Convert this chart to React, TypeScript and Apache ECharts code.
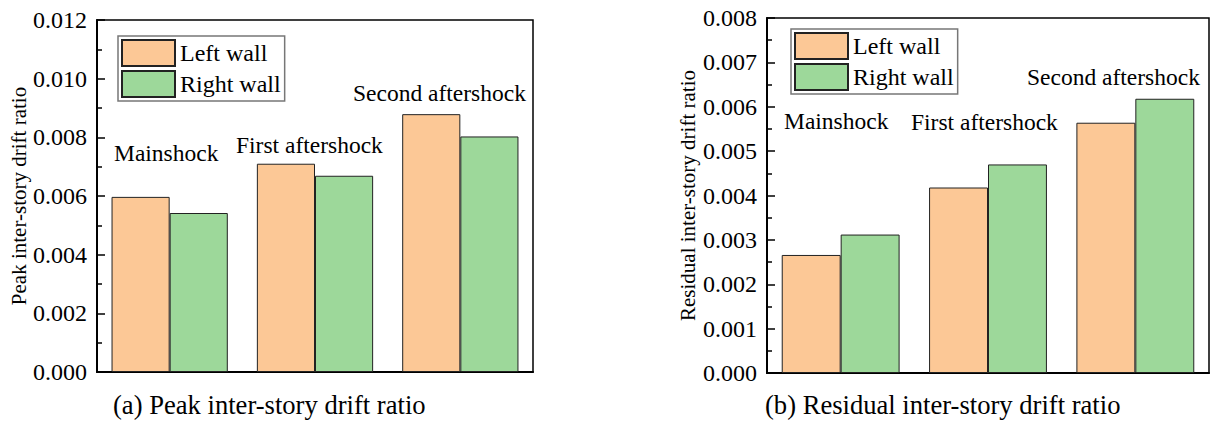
import React, { useEffect, useRef } from "react";
import * as echarts from "echarts";

const categories = ["Mainshock", "First aftershock", "Second aftershock"];
const seriesNames = ["Left wall", "Right wall"];
const peakLeft = [0.00597, 0.0071, 0.00879];
const peakRight = [0.00542, 0.00669, 0.00803];
const residualLeft = [0.00266, 0.00418, 0.00564];
const residualRight = [0.00312, 0.0047, 0.00618];
const peakAxis = { min: 0, max: 0.012, interval: 0.002 };
const residualAxis = { min: 0, max: 0.008, interval: 0.001 };
const yNames = ["Peak inter-story drift ratio", "Residual inter-story drift ratio"];
const captions = ["(a) Peak inter-story drift ratio", "(b) Residual inter-story drift ratio"];

const FONT = "Liberation Serif";
const ORANGE = "#FCC896";
const GREEN = "#9DD89A";

const annotPos = [
  [[114, 153], [236, 145], [353, 93]],
  [[784, 121], [911, 122], [1027, 77]],
];

export default function App() {
  const ref = useRef<HTMLDivElement>(null);
  useEffect(() => {
    if (!ref.current) return;
    const chart = echarts.init(ref.current, undefined, { renderer: "svg" });
    const grids = [
      { left: 97, top: 20, width: 436, height: 352 },
      { left: 767, top: 18, width: 442, height: 355 },
    ];
    const axes = [peakAxis, residualAxis];
    const xAxis = grids.map((_, i) => ({
      type: "category",
      gridIndex: i,
      data: categories,
      axisTick: { show: false },
      axisLabel: { show: false },
      axisLine: { lineStyle: { color: "#000", width: 2 } },
    }));
    const yAxis = grids.map((_, i) => ({
      type: "value",
      gridIndex: i,
      min: axes[i].min,
      max: axes[i].max,
      interval: axes[i].interval,
      name: yNames[i],
      nameLocation: "middle",
      nameGap: i === 0 ? 67 : 69,
      nameTextStyle: { fontFamily: FONT, fontSize: 21, color: "#000" },
      axisLine: { show: true, lineStyle: { color: "#000", width: 2 } },
      axisTick: { show: true, inside: true, length: 8, lineStyle: { color: "#000", width: 1.5 } },
      minorTick: { show: true, splitNumber: 2, length: 5, lineStyle: { color: "#000", width: 1.5 } },
      splitLine: { show: false },
      axisLabel: {
        fontFamily: FONT,
        fontSize: 24,
        color: "#000",
        margin: 10,
        formatter: (v: number) => v.toFixed(3),
      },
    }));
    const data = [
      [peakLeft, peakRight],
      [residualLeft, residualRight],
    ];
    const series: any[] = [];
    data.forEach((pair, gi) => {
      pair.forEach((vals, si) => {
        series.push({
          type: "bar",
          name: seriesNames[si],
          xAxisIndex: gi,
          yAxisIndex: gi,
          data: vals,
          barGap: "0%",
          barCategoryGap: "20%",
          itemStyle: { color: si === 0 ? ORANGE : GREEN, borderColor: "#222", borderWidth: 1 },
        });
      });
    });
    const legend = [
      { left: 118, top: 36 },
      { left: 791, top: 29 },
    ].map((p) => ({
      ...p,
      orient: "vertical",
      data: seriesNames,
      icon: "rect",
      itemWidth: 53,
      itemHeight: 26,
      itemGap: 3,
      padding: [3, 4, 3, 3],
      borderColor: "#777",
      borderWidth: 1.5,
      selectedMode: false,
      textStyle: { fontFamily: FONT, fontSize: 24, color: "#000" },
    }));
    const graphic: any[] = [];
    annotPos.forEach((arr) => {
      arr.forEach((pos, ci) => {
        graphic.push({
          type: "text",
          x: pos[0],
          y: pos[1],
          style: {
            text: categories[ci],
            fontFamily: FONT,
            fontSize: 23.5,
            fill: "#000",
            verticalAlign: "middle",
          },
        });
      });
    });
    [[113, 405], [765, 405]].forEach((pos, i) => {
      graphic.push({
        type: "text",
        x: pos[0],
        y: pos[1],
        style: { text: captions[i], fontFamily: FONT, fontSize: 26.6, fill: "#000", verticalAlign: "middle" },
      });
    });
    chart.setOption({
      animation: false,
      textStyle: { fontFamily: FONT },
      grid: grids.map((g) => ({ ...g, show: true, borderColor: "#000", borderWidth: 1.5, backgroundColor: "transparent" })),
      xAxis,
      yAxis,
      legend,
      series,
      graphic,
    });
    return () => chart.dispose();
  }, []);
  return (
    <div
      ref={ref}
      style={{ position: "absolute", left: 0, top: 0, width: 1210, height: 421, background: "#fff" }}
    />
  );
}
